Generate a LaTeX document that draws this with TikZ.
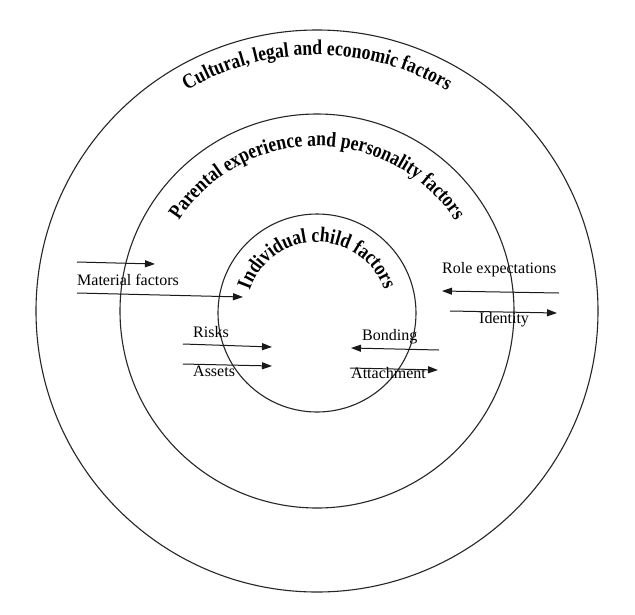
\documentclass[tikz,border=0pt]{standalone}
\usepackage{fontspec}
\setmainfont{Liberation Serif}
\newfontfamily\curvefam[FakeStretch=0.84]{Liberation Serif Bold}
\usetikzlibrary{decorations.text,arrows.meta}
\newcommand\curvefnt{\curvefam\fontsize{21}{21}\selectfont}
\begin{document}
\begin{tikzpicture}[x=1pt,y=1pt,
  ring/.style={draw=black!85, line width=1.1pt},
  flow/.style={draw=black!90, line width=1pt, -{Triangle[length=10pt,width=7pt]}},
  lbl/.style={font=\fontsize{16}{16}\selectfont, anchor=base west, inner sep=0pt}
]
\fill[white] (0,0) rectangle (635,-614);
\useasboundingbox (0,0) rectangle (635,-614);
\coordinate (c) at (317,-311);
\coordinate (ci) at (317,-313);
% rings
\draw[ring] (c) circle[radius=281pt];
\draw[ring] (c) circle[radius=197pt];
\draw[ring] (ci) circle[radius=99pt];
% curved titles
\path[decorate, decoration={text along path, text align=center,
  text={|\curvefnt|Cultural, legal and economic factors}}]
  (c) ++(150:256pt) arc[start angle=150, end angle=30, radius=256pt];
\path[decorate, decoration={text along path, text align=center,
  text={|\curvefnt|Parental experience and personality factors}}]
  (c) ++(165:165pt) arc[start angle=165, end angle=15, radius=165pt];
\path[decorate, decoration={text along path, text align=center,
  text={|\curvefnt|Individual child factors}}]
  (ci) ++(175:71pt) arc[start angle=175, end angle=5, radius=71pt];
% labels
\node[lbl] (mat) at (77,-285) {Material factors};
\node[lbl] (role) at (442,-273) {Role expectations};
\node[lbl] (iden) at (479,-323) {Identity};
\node[lbl] (risk) at (193,-337) {Risks};
\node[lbl] (asse) at (193,-376) {Assets};
\node[lbl] (bond) at (362,-340) {Bonding};
\node[lbl] (atta) at (351,-378) {Attachment};
% arrow ends
\coordinate (m1s) at (77,-262);  \coordinate (m1e) at (155,-264);
\coordinate (m2s) at (77,-293);  \coordinate (m2e) at (243,-297);
\coordinate (rks) at (183,-344); \coordinate (rke) at (272,-347);
\coordinate (ass) at (183,-364); \coordinate (ase) at (272,-366);
\coordinate (ros) at (559,-293); \coordinate (roe) at (442,-291);
\coordinate (ids) at (450,-311); \coordinate (ide) at (557,-313);
\coordinate (bos) at (439,-350); \coordinate (boe) at (351,-348);
\coordinate (ats) at (350,-368); \coordinate (ate) at (438,-370);
\draw[flow] (m1s) -- (m1e);
\draw[flow] (m2s) -- (m2e);
\draw[flow] (rks) -- (rke);
\draw[flow] (ass) -- (ase);
\draw[flow] (ros) -- (roe);
\draw[flow] (ids) -- (ide);
\draw[flow] (bos) -- (boe);
\draw[flow] (ats) -- (ate);
\end{tikzpicture}
\end{document}
